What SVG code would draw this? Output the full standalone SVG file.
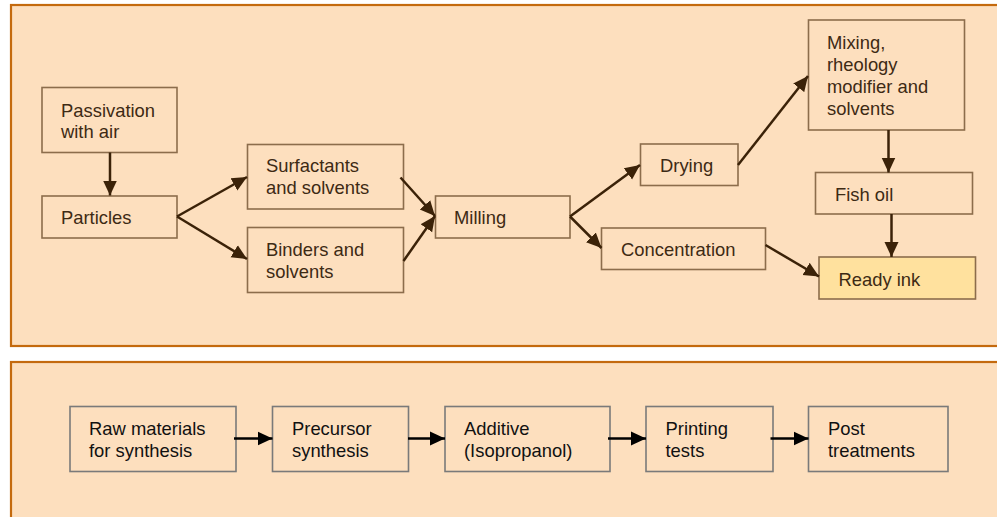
<svg xmlns="http://www.w3.org/2000/svg" width="997" height="517" viewBox="0 0 997 517">
<style>
.panel{fill:#FDDFBE;stroke:#C46A0E;stroke-width:2.2}
.n rect{fill:#FDDFBE;stroke:#8C6D4C;stroke-width:1.6}
.n text{font-family:"Liberation Sans",Arial,sans-serif;font-size:18.4px;fill:#3D2A14}
.b rect{fill:#FDDFBE;stroke:#7A7A7A;stroke-width:1.6}
.b text{font-family:"Liberation Sans",Arial,sans-serif;font-size:18.4px;fill:#111}
#ready rect{fill:#FFE19E}
.c line{stroke:#3B2208;stroke-width:2.5;marker-end:url(#ah)}
.c2 line{stroke:#000;stroke-width:2.5;marker-end:url(#ahk)}
</style>
<defs>
<marker id="ah" markerUnits="userSpaceOnUse" markerWidth="16" markerHeight="16" viewBox="0 0 16 16" refX="15" refY="8" orient="auto">
<path d="M0,1 L15,8 L0,15 Z" fill="#3B2208"/>
</marker>
<marker id="ahk" markerUnits="userSpaceOnUse" markerWidth="16" markerHeight="16" viewBox="0 0 16 16" refX="15" refY="8" orient="auto">
<path d="M0,1 L15,8 L0,15 Z" fill="#000"/>
</marker>
</defs>
<rect width="997" height="517" fill="#FFFFFF"/>
<rect class="panel" x="11" y="5" width="1000" height="341"/>
<rect class="panel" x="11" y="362" width="1000" height="170"/>

<g id="passivation" class="n"><rect x="42" y="87.5" width="135" height="65"/><text x="61" y="117">Passivation</text><text x="61" y="138">with air</text></g>
<g id="particles" class="n"><rect x="42" y="196" width="135" height="42"/><text x="61" y="224">Particles</text></g>
<g id="surfactants" class="n"><rect x="247.5" y="144.5" width="156" height="64.5"/><text x="266" y="172">Surfactants</text><text x="266" y="194">and solvents</text></g>
<g id="binders" class="n"><rect x="247.5" y="227.5" width="156" height="65"/><text x="266" y="256">Binders and</text><text x="266" y="278">solvents</text></g>
<g id="milling" class="n"><rect x="435.5" y="196" width="134.5" height="42"/><text x="454" y="224">Milling</text></g>
<g id="drying" class="n"><rect x="640.5" y="144" width="97.5" height="41.5"/><text x="660" y="172">Drying</text></g>
<g id="concentration" class="n"><rect x="601.5" y="228" width="164" height="41.5"/><text x="621" y="256">Concentration</text></g>
<g id="mixing" class="n"><rect x="808.5" y="20" width="156" height="110"/><text x="827" y="49">Mixing,</text><text x="827" y="71">rheology</text><text x="827" y="93">modifier and</text><text x="827" y="114.5">solvents</text></g>
<g id="fishoil" class="n"><rect x="815.5" y="172.5" width="157" height="41.5"/><text x="835" y="201">Fish oil</text></g>
<g id="ready" class="n"><rect x="819" y="257" width="156.5" height="42"/><text x="838.5" y="285.5">Ready ink</text></g>

<g id="raw" class="b"><rect x="70" y="406.5" width="166" height="65"/><text x="89" y="435">Raw materials</text><text x="89" y="457">for synthesis</text></g>
<g id="precursor" class="b"><rect x="272.5" y="406.5" width="136" height="65"/><text x="292" y="435">Precursor</text><text x="292" y="457">synthesis</text></g>
<g id="additive" class="b"><rect x="445" y="406.5" width="165" height="65"/><text x="464" y="435">Additive</text><text x="464" y="457">(Isopropanol)</text></g>
<g id="printing" class="b"><rect x="646" y="406.5" width="127" height="65"/><text x="665.5" y="435">Printing</text><text x="665.5" y="457">tests</text></g>
<g id="post" class="b"><rect x="808.5" y="406.5" width="139.5" height="65"/><text x="828" y="435">Post</text><text x="828" y="457">treatments</text></g>

<g id="connectors">
<g class="c">
<line x1="110" y1="152.5" x2="110" y2="195.5"/>
<line x1="177" y1="216.5" x2="247" y2="177"/>
<line x1="177" y1="216.5" x2="247" y2="259"/>
<line x1="400.5" y1="177.5" x2="435" y2="216"/>
<line x1="403.5" y1="261" x2="435" y2="216"/>
<line x1="570" y1="216.5" x2="640" y2="165"/>
<line x1="570" y1="216.5" x2="601.5" y2="248"/>
<line x1="738" y1="165" x2="808" y2="76"/>
<line x1="765.5" y1="245" x2="819" y2="276.5"/>
<line x1="888.5" y1="130" x2="888.5" y2="172.5"/>
<line x1="891.5" y1="214" x2="891.5" y2="257"/>
</g>
<g class="c2">
<line x1="234" y1="438.5" x2="272.5" y2="438.5"/>
<line x1="408" y1="438.5" x2="445" y2="438.5"/>
<line x1="608" y1="438.5" x2="646" y2="438.5"/>
<line x1="770.5" y1="438.5" x2="808.5" y2="438.5"/>
</g>
</g>
</svg>
